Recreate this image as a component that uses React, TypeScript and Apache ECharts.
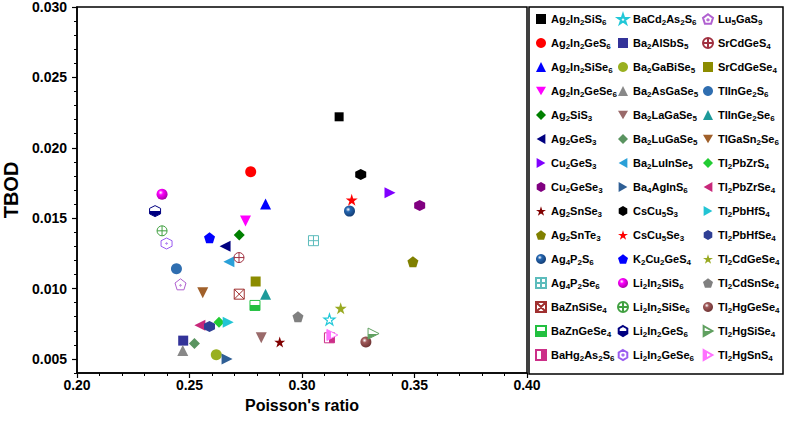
import React, { useEffect, useRef } from 'react';
import * as echarts from 'echarts';

const materials = [
  'Ag2In2SiS6', 'Ag2In2GeS6', 'Ag2In2SiSe6', 'Ag2In2GeSe6', 'Ag2SiS3', 'Ag2GeS3', 'Cu2GeS3', 'Cu2GeSe3',
  'Ag2SnSe3', 'Ag2SnTe3', 'Ag4P2S6', 'Ag4P2Se6', 'BaZnSiSe4', 'BaZnGeSe4', 'BaHg2As2S6',
  'BaCd2As2S6', 'Ba2AlSbS5', 'Ba2GaBiSe5', 'Ba2AsGaSe5', 'Ba2LaGaSe5', 'Ba2LuGaSe5', 'Ba2LuInSe5', 'Ba4AgInS6',
  'CsCu5S3', 'CsCu5Se3', 'K2Cu2GeS4', 'Li2In2SiS6', 'Li2In2SiSe6', 'Li2In2GeS6', 'Li2In2GeSe6',
  'Lu5GaS9', 'SrCdGeS4', 'SrCdGeSe4', 'TlInGe2S6', 'TlInGe2Se6', 'TlGaSn2Se6', 'Tl2PbZrS4', 'Tl2PbZrSe4',
  'Tl2PbHfS4', 'Tl2PbHfSe4', 'Tl2CdGeSe4', 'Tl2CdSnSe4', 'Tl2HgGeSe4', 'Tl2HgSiSe4', 'Tl2HgSnS4',
];

const poissonRatio = [
  0.3165, 0.2772, 0.2838, 0.2749, 0.2721, 0.2658, 0.3391, 0.3523,
  0.2901, 0.3493, 0.3211, 0.3051, 0.2721, 0.2791, 0.3122,
  0.3122, 0.2472, 0.2619, 0.2470, 0.2819, 0.2522, 0.2675, 0.2667,
  0.3261, 0.3221, 0.2589, 0.2378, 0.2378, 0.2347, 0.2398,
  0.2460, 0.2720, 0.2794, 0.2442, 0.2838, 0.2559, 0.2631, 0.2546,
  0.2672, 0.2589, 0.3172, 0.2982, 0.3284, 0.3318, 0.3135,
];

const tbod = [
  0.0222, 0.0183, 0.0160, 0.0148, 0.0138, 0.0130, 0.0168, 0.0159,
  0.0062, 0.0119, 0.0155, 0.0134, 0.0096, 0.0088, 0.0065,
  0.0078, 0.0063, 0.0053, 0.0056, 0.0065, 0.0061, 0.0119, 0.0050,
  0.0181, 0.0163, 0.0136, 0.0167, 0.0141, 0.0155, 0.0132,
  0.0103, 0.0122, 0.0105, 0.0114, 0.0096, 0.0097, 0.0076, 0.0074,
  0.0076, 0.0073, 0.0086, 0.0080, 0.0062, 0.0068, 0.0067,
];

const yTickValues = [0.005, 0.01, 0.015, 0.02, 0.025, 0.03];

const FONT = '"Liberation Sans", Arial, Helvetica, sans-serif';

const P = {
  invTri: 'path://M0,0 L100,0 L50,87 Z',
  leftTri: 'path://M0,50 L87,0 L87,100 Z',
  rightTri: 'path://M0,0 L87,50 L0,100 Z',
  hex: 'path://M50,0 L93,25 L93,75 L50,100 L7,75 L7,25 Z',
  star: 'path://M50,0 L61.23,34.55 L97.55,34.55 L68.16,55.9 L79.39,90.45 L50,69.1 L20.61,90.45 L31.84,55.9 L2.45,34.55 L38.77,34.55 Z',
  pent: 'path://M50,0 L97.55,34.55 L79.39,90.45 L20.61,90.45 L2.45,34.55 Z',
  gridSq: 'path://M0,0 L100,0 L100,100 L0,100 Z M50,0 L50,100 M0,50 L100,50',
  crossSq: 'path://M0,0 L100,0 L100,100 L0,100 Z M0,0 L100,100 M100,0 L0,100',
  circPlus: 'path://M50,0 A50,50 0 1,1 50,100 A50,50 0 1,1 50,0 Z M50,0 L50,100 M0,50 L100,50',
  hexDot: 'path://M50,0 L93,25 L93,75 L50,100 L7,75 L7,25 Z M50,44 A6,6 0 1,1 50,56 A6,6 0 1,1 50,44 Z',
  pentDot: 'path://M50,0 L97.55,34.55 L79.39,90.45 L20.61,90.45 L2.45,34.55 Z M50,48 A6,6 0 1,1 50,60 A6,6 0 1,1 50,48 Z',
};

const CLEAR = 'rgba(255,255,255,0)';

function sphere(c: string, dark: string) {
  return {
    type: 'radial', x: 0.38, y: 0.35, r: 0.7,
    colorStops: [
      { offset: 0, color: '#ffffff' },
      { offset: 0.3, color: c },
      { offset: 1, color: dark },
    ],
  };
}
function split(c: string, vertical: boolean, a: number, firstWhite: boolean) {
  const w = '#ffffff';
  const c1 = firstWhite ? w : c;
  const c2 = firstWhite ? c : w;
  return {
    type: 'linear', x: 0, y: 0, x2: vertical ? 0 : 1, y2: vertical ? 1 : 0,
    colorStops: [
      { offset: 0, color: c1 }, { offset: a, color: c1 },
      { offset: a, color: c2 }, { offset: 1, color: c2 },
    ],
  };
}

type Sty = { symbol: string; size: number | number[]; color: any; border?: string; bw?: number };

const styles: Sty[] = [
  { symbol: 'rect', size: 9, color: '#000000' },
  { symbol: 'circle', size: 11, color: '#ff0000' },
  { symbol: 'triangle', size: 11, color: '#0000ff' },
  { symbol: P.invTri, size: 11, color: '#ff00ff' },
  { symbol: 'diamond', size: 11, color: '#008000' },
  { symbol: P.leftTri, size: 11, color: '#000080' },
  { symbol: P.rightTri, size: 11, color: '#8000ff' },
  { symbol: P.hex, size: 11, color: '#800080' },
  { symbol: P.star, size: 11, color: '#800000' },
  { symbol: P.pent, size: 11, color: '#808000' },
  { symbol: 'circle', size: 11, color: sphere('#2566b0', '#123a70') },
  { symbol: P.gridSq, size: 10, color: CLEAR, border: '#5cbcbc', bw: 1 },
  { symbol: P.crossSq, size: 10, color: CLEAR, border: '#a03030', bw: 1 },
  { symbol: 'rect', size: 10, color: split('#22c040', true, 0.5, true), border: '#22c040', bw: 1 },
  { symbol: 'rect', size: 10, color: split('#cc2f88', false, 0.5, true), border: '#cc2f88', bw: 1 },
  { symbol: P.star, size: 11, color: CLEAR, border: '#22c8d8', bw: 1.2 },
  { symbol: 'rect', size: 10, color: '#333399' },
  { symbol: 'circle', size: 11, color: '#99b020' },
  { symbol: 'triangle', size: 11, color: '#888888' },
  { symbol: P.invTri, size: 11, color: '#9a6a6a' },
  { symbol: 'diamond', size: 11, color: '#5a9460' },
  { symbol: P.leftTri, size: 11, color: '#2aa0d8' },
  { symbol: P.rightTri, size: 11, color: '#2f5f95' },
  { symbol: P.hex, size: 11, color: '#000000' },
  { symbol: P.star, size: 12, color: '#ff0000' },
  { symbol: P.pent, size: 11, color: '#0000ff' },
  { symbol: 'circle', size: 11, color: sphere('#ff00ff', '#a000a0') },
  { symbol: P.circPlus, size: 10, color: CLEAR, border: '#40a040', bw: 1 },
  { symbol: P.hex, size: 11, color: split('#000080', true, 0.5, true), border: '#000080', bw: 1 },
  { symbol: P.hexDot, size: 11, color: CLEAR, border: '#9a5cf0', bw: 1 },
  { symbol: P.pentDot, size: 11, color: CLEAR, border: '#b060d0', bw: 1 },
  { symbol: P.circPlus, size: 10, color: CLEAR, border: '#a03040', bw: 1 },
  { symbol: 'rect', size: 10, color: '#8c8c00' },
  { symbol: 'circle', size: 11, color: '#2f6eb0' },
  { symbol: 'triangle', size: 11, color: '#1e9a9a' },
  { symbol: P.invTri, size: 11, color: '#a0602a' },
  { symbol: 'diamond', size: 11, color: '#22cc33' },
  { symbol: P.leftTri, size: 11, color: '#c8287a' },
  { symbol: P.rightTri, size: 11, color: '#22c4d4' },
  { symbol: P.hex, size: 11, color: '#2f3f95' },
  { symbol: P.star, size: 12, color: '#99aa22' },
  { symbol: P.pent, size: 11, color: '#808080' },
  { symbol: 'circle', size: 11, color: sphere('#a05a5a', '#6a3030') },
  { symbol: P.rightTri, size: 11, color: split('#60a060', true, 0.5, true), border: '#60a060', bw: 1 },
  { symbol: P.rightTri, size: 11, color: split('#ff70ff', false, 0.35, false), border: '#ff70ff', bw: 1 },
];

const legendLefts = [535, 617, 702];

function richName(n: string) {
  return n.replace(/(\d+)/g, '{s|$1}');
}

export default function App() {
  const ref = useRef<HTMLDivElement>(null);
  useEffect(() => {
    if (!ref.current) return;
    const chart = echarts.init(ref.current, undefined, { renderer: 'svg' });
    const series = materials.map((name, i) => {
      const s = styles[i];
      return {
        type: 'scatter',
        name,
        data: [[poissonRatio[i], tbod[i]]],
        symbol: s.symbol,
        symbolSize: s.size,
        xAxisIndex: 0,
        yAxisIndex: 0,
        itemStyle: {
          color: s.color,
          borderColor: s.border || undefined,
          borderWidth: s.bw || 0,
          opacity: 1,
        },
        emphasis: { disabled: true },
      };
    });
    const legends = [0, 1, 2].map((c) => ({
      orient: 'vertical',
      left: legendLefts[c],
      top: 12,
      itemWidth: 10,
      itemHeight: 10,
      itemGap: 10,
      padding: 0,
      selectedMode: false,
      data: materials.slice(c * 15, c * 15 + 15),
      formatter: (n: string) => richName(n),
      textStyle: {
        color: '#000',
        fontSize: 11,
        fontWeight: 'bold',
        fontFamily: FONT,
        lineHeight: 14,
        rich: {
          s: {
            color: '#000',
            fontSize: 8,
            fontWeight: 'bold',
            fontFamily: FONT,
            verticalAlign: 'bottom',
            lineHeight: 8,
          },
        },
      },
    }));
    const axisLabelStyle = { color: '#000', fontSize: 14, fontWeight: 'bold', fontFamily: FONT };
    chart.setOption({
      animation: false,
      backgroundColor: '#fff',
      grid: {
        left: 77, right: 258, top: 7, bottom: 55,
        outerBoundsMode: 'none', containLabel: false,
        show: true, borderColor: '#000', borderWidth: 1.5, backgroundColor: 'transparent',
      },
      legend: legends,
      xAxis: {
        type: 'value',
        min: 0.2,
        max: 0.4,
        interval: 0.05,
        name: "Poisson's ratio",
        nameLocation: 'middle',
        nameGap: 24,
        nameTextStyle: { color: '#000', fontSize: 16, fontWeight: 'bold', fontFamily: FONT },
        axisLine: { show: true, lineStyle: { color: '#000', width: 1.5 } },
        axisTick: { show: true, inside: false, length: 5, lineStyle: { color: '#000', width: 1.2 } },
        minorTick: { show: true, splitNumber: 5, length: 3, lineStyle: { color: '#000', width: 1 } },
        axisLabel: { ...axisLabelStyle, margin: 5, formatter: (v: number) => v.toFixed(2) },
        splitLine: { show: false },
      },
      yAxis: [
        {
          type: 'value',
          min: 0.004,
          max: 0.03,
          interval: 0.001,
          axisLine: { show: true, lineStyle: { color: '#000', width: 1.5 } },
          axisTick: { show: true, inside: false, length: 3, lineStyle: { color: '#000', width: 1 } },
          axisLabel: { show: false },
          splitLine: { show: false },
        },
        {
          type: 'value',
          position: 'left',
          min: 0.004,
          max: 0.03,
          name: 'TBOD',
          nameLocation: 'middle',
          nameGap: 55,
          nameTextStyle: { color: '#000', fontSize: 20, fontWeight: 'bold', fontFamily: FONT },
          axisLine: { show: false },
          axisTick: { show: true, inside: false, length: 5, customValues: yTickValues, lineStyle: { color: '#000', width: 1.2 } },
          axisLabel: { ...axisLabelStyle, margin: 10, customValues: yTickValues, formatter: (v: number) => v.toFixed(3) },
          splitLine: { show: false },
        },
      ],
      graphic: [
        {
          type: 'rect',
          shape: { x: 529, y: 7, width: 254, height: 367 },
          style: { fill: 'transparent', stroke: '#000', lineWidth: 1.5 },
          z: 0,
        },
      ],
      series,
    });
    return () => chart.dispose();
  }, []);
  return <div ref={ref} style={{ width: 785, height: 428, position: 'fixed', left: 0, top: 0 }} />;
}
